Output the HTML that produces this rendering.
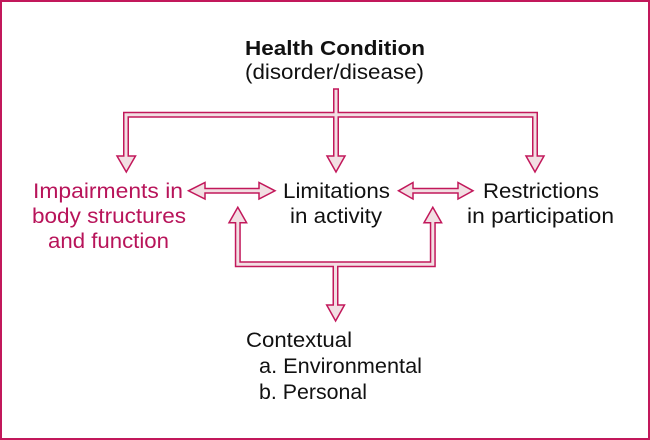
<!DOCTYPE html>
<html>
<head>
<meta charset="utf-8">
<style>
  html, body { margin:0; padding:0; background:#fff; }
  body { width:650px; height:440px; overflow:hidden; }
  svg { display:block; }
  text { font-family: "Liberation Sans", Arial, sans-serif; }
</style>
</head>
<body>
<svg width="650" height="440" viewBox="0 0 650 440" xmlns="http://www.w3.org/2000/svg">
  <rect x="0" y="0" width="650" height="440" fill="#ffffff"/>
  <rect x="1" y="1" width="648" height="438" fill="none" stroke="#c2185b" stroke-width="2"/>

  <!-- Titles -->
  <text x="245" y="55" font-size="20" font-weight="bold" fill="#111" textLength="180" lengthAdjust="spacingAndGlyphs">Health Condition</text>
  <text x="245" y="79" font-size="21" fill="#111" textLength="179" lengthAdjust="spacingAndGlyphs">(disorder/disease)</text>

  <!-- Left (pink) -->
  <g fill="#b8145a" font-size="21">
    <text x="33" y="198" textLength="150" lengthAdjust="spacingAndGlyphs">Impairments in</text>
    <text x="32" y="223" textLength="154" lengthAdjust="spacingAndGlyphs">body structures</text>
    <text x="48" y="248" textLength="121" lengthAdjust="spacingAndGlyphs">and function</text>
  </g>

  <!-- Middle / right / bottom -->
  <g fill="#111" font-size="21">
    <text x="283" y="198" textLength="107" lengthAdjust="spacingAndGlyphs">Limitations</text>
    <text x="290" y="223" textLength="92" lengthAdjust="spacingAndGlyphs">in activity</text>
    <text x="483" y="198" textLength="116" lengthAdjust="spacingAndGlyphs">Restrictions</text>
    <text x="467" y="223" textLength="147" lengthAdjust="spacingAndGlyphs">in participation</text>
    <text x="246" y="347" textLength="106" lengthAdjust="spacingAndGlyphs">Contextual</text>
    <text x="259" y="373" textLength="163" lengthAdjust="spacingAndGlyphs">a. Environmental</text>
    <text x="259" y="399" textLength="108" lengthAdjust="spacingAndGlyphs">b. Personal</text>
  </g>

  <!-- Connector outer strokes -->
  <g fill="none" stroke="#c2185b" stroke-width="6" stroke-linejoin="miter" stroke-linecap="butt">
    <path d="M126,157 V114.8 H535 V157"/>
    <path d="M336,88.3 V157"/>
    <path d="M204,190.8 H260"/>
    <path d="M412,190.8 H459"/>
    <path d="M237.8,222 V264.2 H432.8 V222"/>
    <path d="M335.5,264 V306"/>
  </g>

  <!-- Arrowheads -->
  <g fill="#f2dfe3" stroke="#c2185b" stroke-width="1.5" stroke-linejoin="miter">
    <polygon points="117,156 135.5,156 126.3,172"/>
    <polygon points="327,156 345,156 336,172"/>
    <polygon points="526,156 544,156 535,172"/>
    <polygon points="205,182.5 205,199 188.5,190.8"/>
    <polygon points="259,182.5 259,199 275,190.8"/>
    <polygon points="413,182.5 413,199 398.5,190.8"/>
    <polygon points="458,182.5 458,199 473,190.8"/>
    <polygon points="229,222.7 246.6,222.7 237.8,207.3"/>
    <polygon points="424,222.7 441.6,222.7 432.8,207.3"/>
    <polygon points="326.7,305 344.5,305 335.6,321"/>
  </g>

  <!-- Connector inner fills -->
  <g fill="none" stroke="#f2dfe3" stroke-width="3" stroke-linejoin="miter" stroke-linecap="butt">
    <path d="M126,158 V114.8 H535 V158"/>
    <path d="M336,89.8 V158"/>
    <path d="M203,190.8 H261"/>
    <path d="M411,190.8 H460"/>
    <path d="M237.8,221 V264.2 H432.8 V221"/>
    <path d="M335.5,264 V307"/>
  </g>
</svg>
</body>
</html>
